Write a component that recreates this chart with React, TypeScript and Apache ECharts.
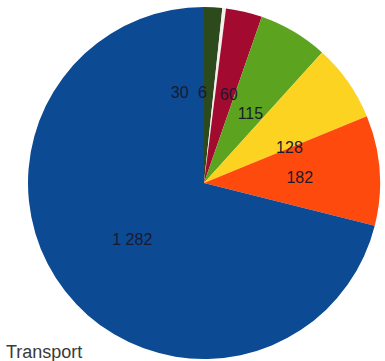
import React, { useEffect, useRef } from "react";
import * as echarts from "echarts";

const categories = ["A", "B", "C", "D", "E", "F", "Transport"];
const values = [30, 6, 60, 115, 128, 182, 1282];
const colors = ["#2d4a1c", "#f4eeee", "#a20a30", "#5ca41f", "#fcd320", "#fe4a0c", "#0c4a93"];
const labelOffsets: [number, number][] = [[-29, 0], [-12, 0], [4, 0], [0, 9], [11, 17], [5, 1], [0, 0]];

function fmt(v: number): string {
  const s = String(v);
  return s.length > 3 ? s.slice(0, s.length - 3) + " " + s.slice(s.length - 3) : s;
}

export default function App() {
  const ref = useRef<HTMLDivElement>(null);
  useEffect(() => {
    if (!ref.current) return;
    const chart = echarts.init(ref.current, null, { renderer: "svg" });
    chart.setOption({
      animation: false,
      backgroundColor: "#ffffff",
      title: {
        text: "Transport",
        left: 1,
        top: 338,
        textStyle: { fontFamily: "Liberation Sans", fontSize: 18, fontWeight: "normal", color: "#3a3a3a" },
      },
      series: [
        {
          type: "pie",
          center: [204, 183],
          radius: [0, 176],
          startAngle: 90,
          clockwise: true,
          avoidLabelOverlap: false,
          data: values.map((v, i) => ({
            name: categories[i],
            value: v,
            itemStyle: { color: colors[i] },
            label: { offset: labelOffsets[i] },
          })),
          label: {
            show: true,
            position: "inside",
            formatter: (p: any) => fmt(p.value),
            fontFamily: "Liberation Sans",
            fontSize: 16,
            color: "#1a1a2e",
          },
          labelLine: { show: false },
          labelLayout: { hideOverlap: false },
          itemStyle: { borderWidth: 0 },
        },
      ],
    });
    return () => chart.dispose();
  }, []);
  return (
    <div
      ref={ref}
      style={{ width: 385, height: 361, position: "fixed", left: 0, top: 0 }}
    />
  );
}
